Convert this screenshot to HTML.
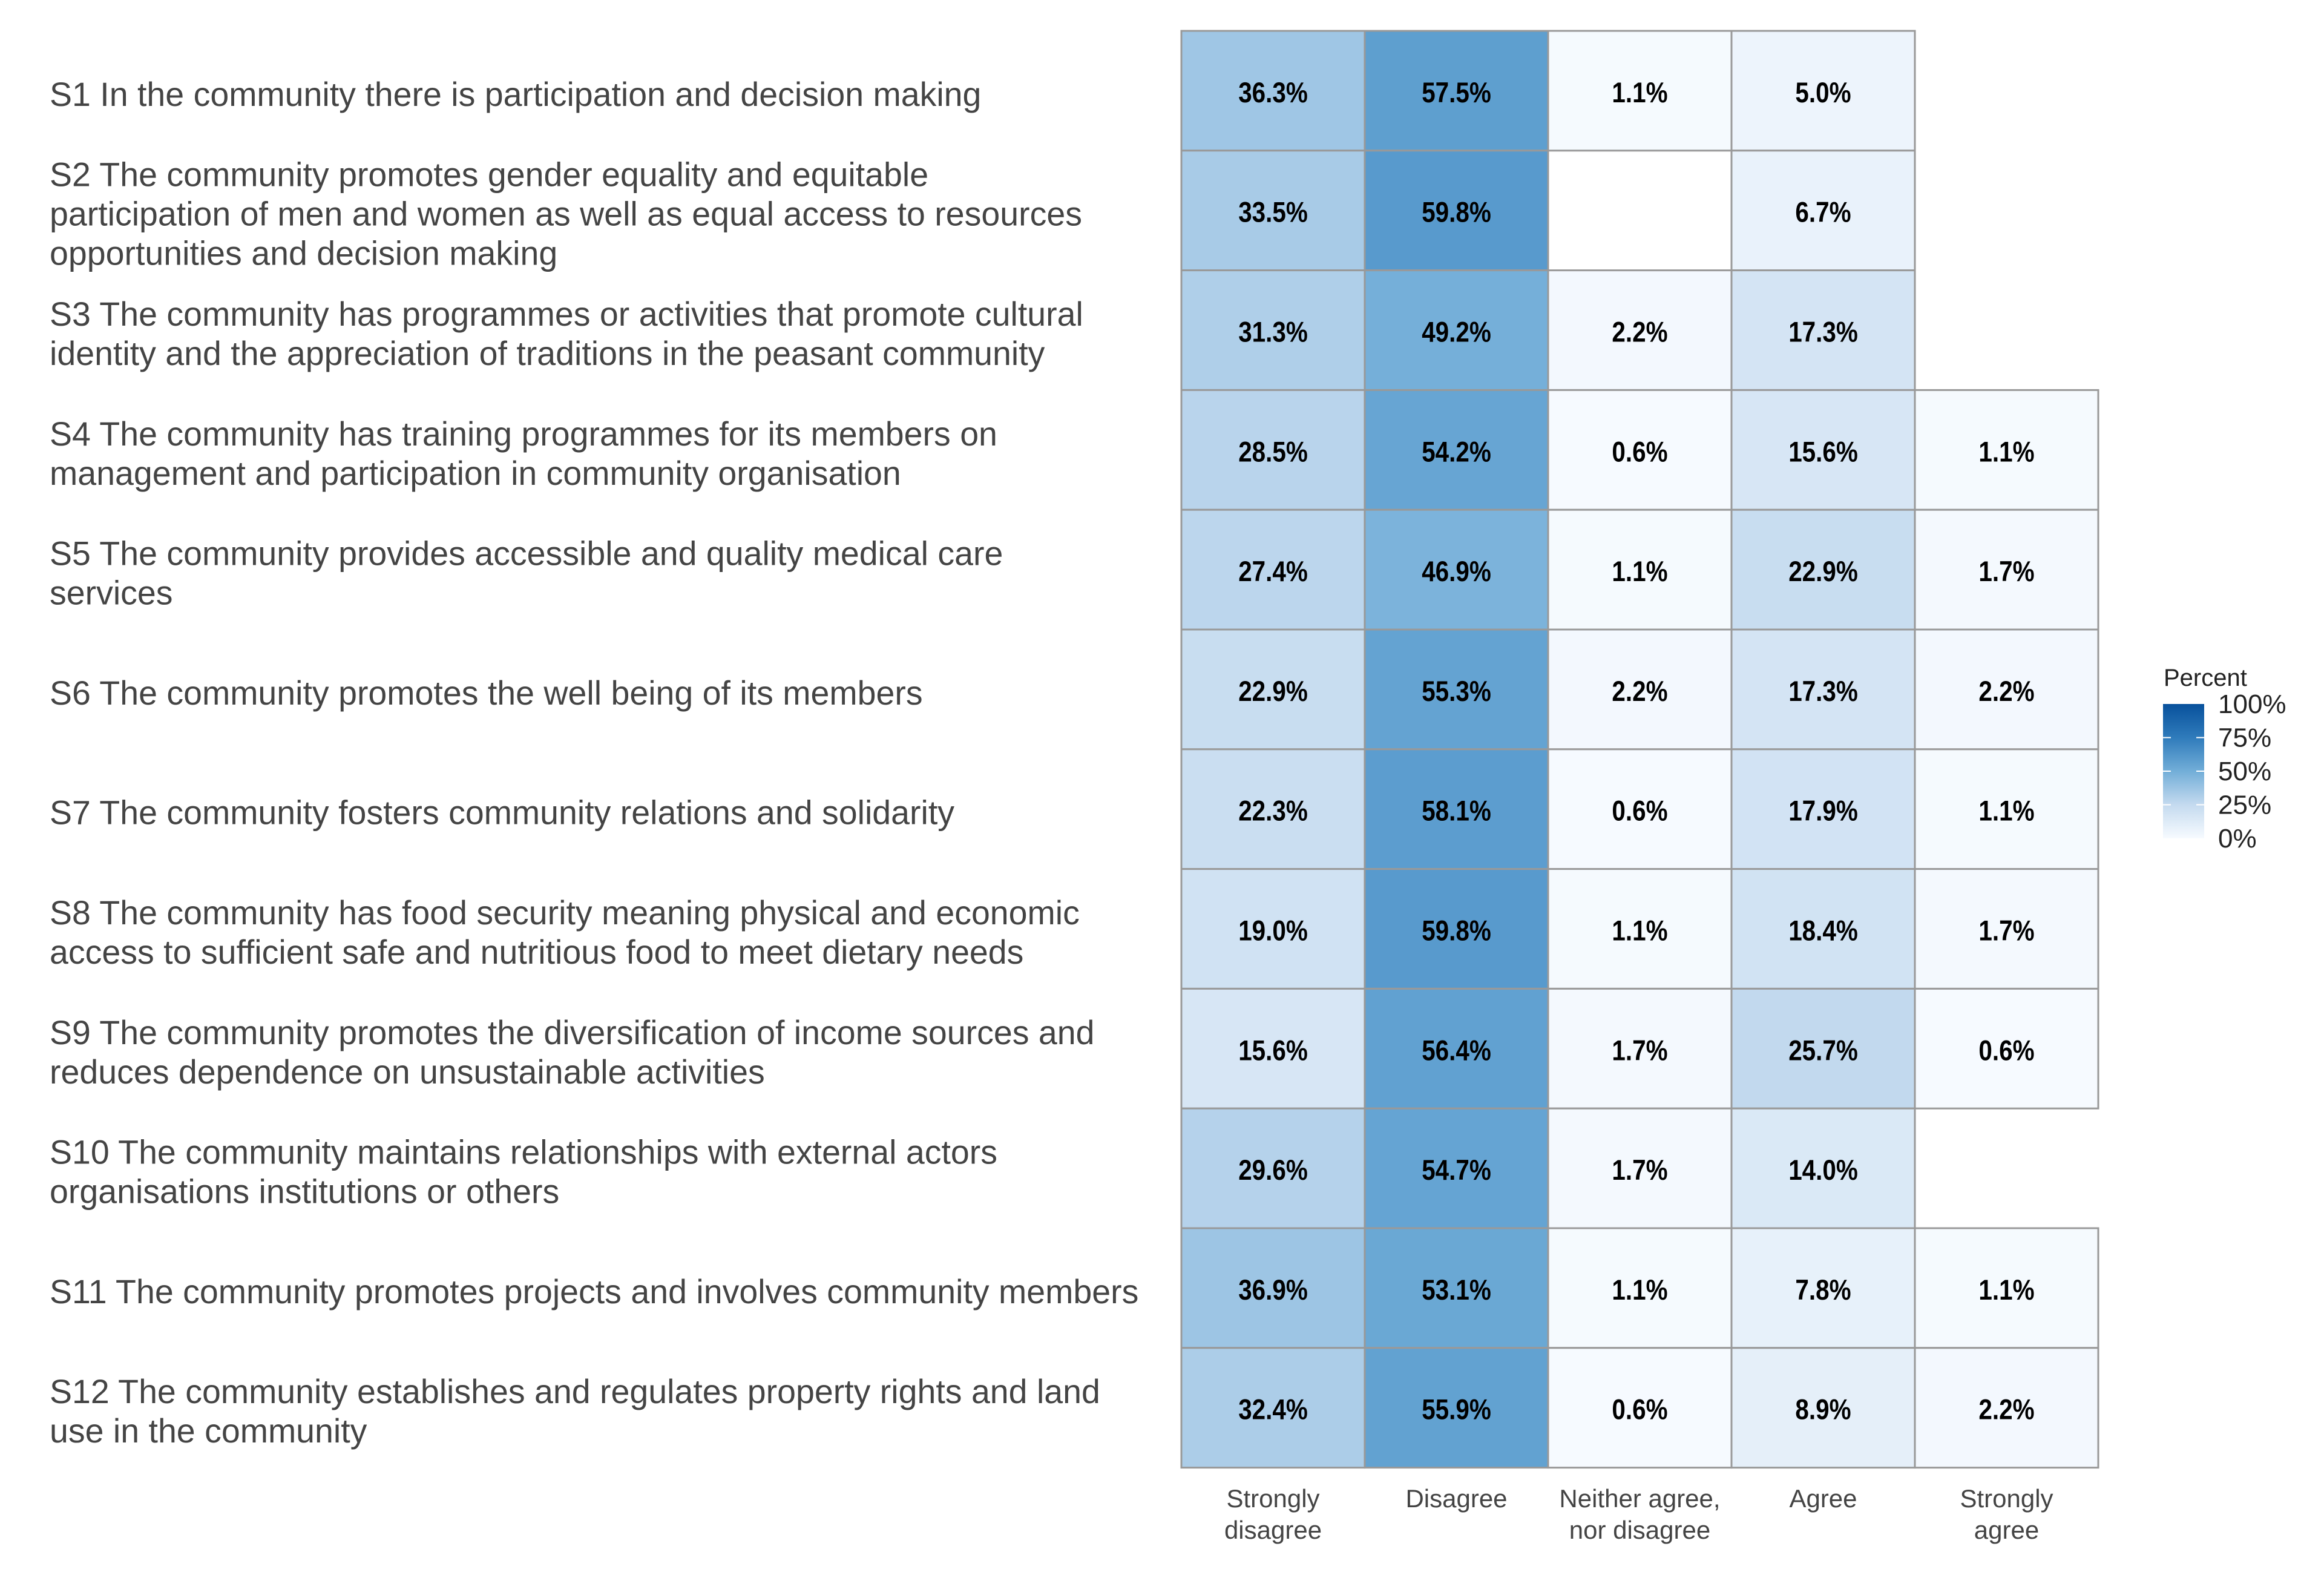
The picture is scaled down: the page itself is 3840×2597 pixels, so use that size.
<!DOCTYPE html>
<html><head><meta charset="utf-8"><style>
html,body{margin:0;padding:0;background:#fff;}
svg{display:block;}
</style></head><body>
<svg id="chart" width="3840" height="2597" xmlns="http://www.w3.org/2000/svg" font-family="Liberation Sans, Arial, sans-serif">
<g id="labels"></g>
<g id="cells"></g>
<g id="xaxis"></g>
<g id="legend">
  <defs><linearGradient id="grad" x1="0" y1="1" x2="0" y2="0">
    <stop offset="0" stop-color="#f7fbff"/><stop offset="0.25" stop-color="#c4daef"/>
    <stop offset="0.5" stop-color="#72aed8"/><stop offset="0.75" stop-color="#2f7bbb"/>
    <stop offset="1" stop-color="#08519c"/></linearGradient></defs>
  <text x="3575" y="1133" font-size="40" fill="#222">Percent</text>
  <rect x="3574" y="1163" width="68" height="222" fill="url(#grad)"/>
</g>
</svg>
<script>
const categories = ["Strongly disagree","Disagree","Neither agree, nor disagree","Agree","Strongly agree"];
const catLines = [["Strongly","disagree"],["Disagree"],["Neither agree,","nor disagree"],["Agree"],["Strongly","agree"]];
const statements = [
 ["S1 In the community there is participation and decision making"],
 ["S2 The community promotes gender equality and equitable","participation of men and women as well as equal access to resources","opportunities and decision making"],
 ["S3 The community has programmes or activities that promote cultural","identity and the appreciation of traditions in the peasant community"],
 ["S4 The community has training programmes for its members on","management and participation in community organisation"],
 ["S5 The community provides accessible and quality medical care","services"],
 ["S6 The community promotes the well being of its members"],
 ["S7 The community fosters community relations and solidarity"],
 ["S8 The community has food security meaning physical and economic","access to sufficient safe and nutritious food to meet dietary needs"],
 ["S9 The community promotes the diversification of income sources and","reduces dependence on unsustainable activities"],
 ["S10 The community maintains relationships with external actors","organisations institutions or others"],
 ["S11 The community promotes projects and involves community members"],
 ["S12 The community establishes and regulates property rights and land","use in the community"]
];
const stronglyDisagree = [36.3,33.5,31.3,28.5,27.4,22.9,22.3,19.0,15.6,29.6,36.9,32.4];
const disagree = [57.5,59.8,49.2,54.2,46.9,55.3,58.1,59.8,56.4,54.7,53.1,55.9];
const neither = [1.1,null,2.2,0.6,1.1,2.2,0.6,1.1,1.7,1.7,1.1,0.6];
const agree = [5.0,6.7,17.3,15.6,22.9,17.3,17.9,18.4,25.7,14.0,7.8,8.9];
const stronglyAgree = [null,null,null,1.1,1.7,2.2,1.1,1.7,0.6,null,1.1,2.2];
const legendTicks = [0,25,50,75,100];

const series = [stronglyDisagree,disagree,neither,agree,stronglyAgree];
const NS="http://www.w3.org/2000/svg";
const X0=1952, CW=303, Y0=51, RH=197.8;
const xPos = i => X0 + i*CW;
const yPos = r => Y0 + r*RH;
const stops=[[0,[247,251,255]],[25,[196,218,239]],[50,[114,174,216]],[75,[47,123,187]],[100,[8,81,156]]];
function color(v){
  for(let k=0;k<stops.length-1;k++){
    const [a,ca]=stops[k],[b,cb]=stops[k+1];
    if(v<=b){const t=(v-a)/(b-a);return 'rgb('+ca.map((c,j)=>Math.round(c+(cb[j]-c)*t)).join(',')+')';}
  }
  return 'rgb(8,81,156)';
}
function mk(tag,attrs,parent){const e=document.createElementNS(NS,tag);for(const k in attrs)e.setAttribute(k,attrs[k]);parent.appendChild(e);return e;}

const gl=document.getElementById('labels');
statements.forEach((lines,r)=>{
  const yc=yPos(r)+RH/2, lh=65;
  const t=mk('text',{x:82,'font-size':55.5,fill:'#444'},gl);
  
  
  lines.forEach((ln,i)=>{
    const ts=mk('tspan',{x:82,y:yc+25+(i-(lines.length-1)/2)*lh},t);
    ts.textContent=ln;
  });
});

const gc=document.getElementById('cells');
series.forEach((vals,c)=>{
  vals.forEach((v,r)=>{
    if(v===null) return;
    const rc=mk('rect',{x:xPos(c),y:yPos(r),width:CW,height:RH,fill:color(v),stroke:'#999','stroke-width':3},gc);
    
    
    const cx=xPos(c)+CW/2;
    const t=mk('text',{x:cx,y:yPos(r)+RH/2+19,'font-size':47,'font-weight':'bold','text-anchor':'middle',fill:'#000',transform:'translate('+cx+',0) scale(0.86,1) translate('+(-cx)+',0)'},gc);
    
    
    t.textContent=v.toFixed(1)+'%';
  });
});

const gx=document.getElementById('xaxis');
catLines.forEach((lines,c)=>{
  const t=mk('text',{'font-size':42,fill:'#444','text-anchor':'middle'},gx);
  
  
  lines.forEach((ln,i)=>{
    const ts=mk('tspan',{x:xPos(c)+CW/2,y:2490+i*52},t);
    ts.textContent=ln;
  });
});

const lg=document.getElementById('legend');
const LB=1385, LT=1163;
const ly = v => LB - (LB-LT)*v/100;
legendTicks.forEach(v=>{
  if(v>0&&v<100){
    const a=mk('line',{x1:3574,x2:3587,y1:ly(v),y2:ly(v),stroke:'#fff','stroke-width':2},lg);
    
    
    const b=mk('line',{x1:3629,x2:3642,y1:ly(v),y2:ly(v),stroke:'#fff','stroke-width':2},lg);
    
    
  }
  const t=mk('text',{x:3665,y:ly(v)+15,'font-size':44,fill:'#222'},lg);
  
  
  t.textContent=v+'%';
});
</script>
</body></html>
